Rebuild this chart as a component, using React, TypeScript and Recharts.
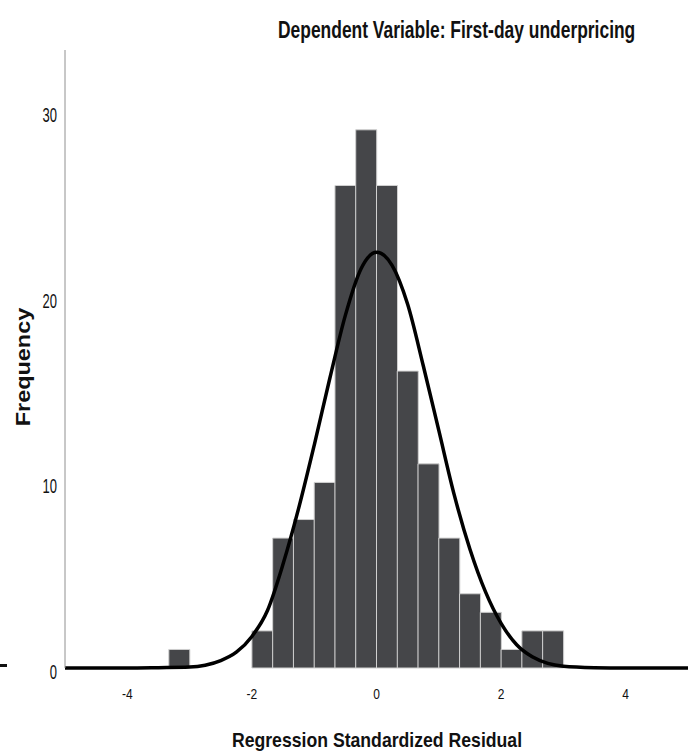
import React from "react";
import { ComposedChart, Bar, Line, XAxis, YAxis } from "recharts";

// histogram bins (start of each 1/3-wide bin)
const binLabels = [
  "-5.00", "-4.67", "-4.33", "-4.00", "-3.67", "-3.33", "-3.00", "-2.67", "-2.33", "-2.00",
  "-1.67", "-1.33", "-1.00", "-0.67", "-0.33", "0.00", "0.33", "0.67", "1.00", "1.33",
  "1.67", "2.00", "2.33", "2.67", "3.00", "3.33", "3.67", "4.00", "4.33", "4.67",
];
const counts = [
  0, 0, 0, 0, 0, 1, 0, 0, 0, 2,
  7, 8, 10, 26, 29, 26, 16, 11, 7, 4,
  3, 1, 2, 2, 0, 0, 0, 0, 0, 0,
];

// normal curve
const curveX = [-5, -4, -3.5, -3, -2.75, -2.5, -2.25, -2, -1.75, -1.5, -1.25, -1, -0.75, -0.5, -0.25, 0, 0.25, 0.5, 0.75, 1, 1.25, 1.5, 1.75, 2, 2.25, 2.5, 2.75, 3, 3.5, 4, 5];
const curveY = [0, 0, 0.02, 0.05, 0.15, 0.4, 0.85, 1.7, 3.1, 5.6, 8.6, 12.0, 15.6, 19.0, 21.5, 22.4, 21.7, 19.6, 16.3, 12.8, 9.3, 6.4, 4.1, 2.4, 1.25, 0.6, 0.25, 0.1, 0.02, 0, 0];

const xTicks = [-4, -2, 0, 2, 4];
const yTicks = [0, 10, 20, 30];

const binData = binLabels.map((bin, i) => ({ bin, count: counts[i] }));
const curveData = curveX.map((x, i) => ({ x, y: curveY[i] }));

const FONT = '"Liberation Sans", Arial, sans-serif';

function YTick({ x, y, payload }: any) {
  return (
    <text
      transform={`translate(${x} ${y + 4}) scale(1 1.5)`}
      textAnchor="end"
      dy="0.36em"
      fontSize={13}
      fontFamily={FONT}
      fill="#111"
    >
      {payload.value}
    </text>
  );
}

function XTick({ x, y, payload }: any) {
  return (
    <text
      transform={`translate(${x} ${y + 18}) scale(1 1.17)`}
      textAnchor="middle"
      dy="0.36em"
      fontSize={12}
      fontFamily={FONT}
      fill="#111"
    >
      {payload.value}
    </text>
  );
}

export default function App() {
  return (
    <div style={{ position: "absolute", left: 0, top: 0, width: 694, height: 756, background: "#fff" }}>
      <ComposedChart
        width={694}
        height={756}
        data={binData}
        margin={{ top: 50, right: 6, bottom: 58, left: 0 }}
        barCategoryGap={0}
        barGap={0}
      >
        <XAxis xAxisId="bins" dataKey="bin" type="category" orientation="top" height={0} hide />
        <XAxis
          xAxisId="num"
          dataKey="x"
          type="number"
          domain={[-5, 5]}
          ticks={xTicks}
          height={30}
          tickLine={false}
          axisLine={false}
          tick={<XTick />}
        />
        <YAxis
          domain={[0, 33.3]}
          ticks={yTicks}
          width={65}
          tickLine={false}
          axisLine={{ stroke: "#909090" }}
          tick={<YTick />}
        />
        <Bar
          xAxisId="bins"
          dataKey="count"
          fill="#454649"
          stroke="#d0d0d0"
          strokeWidth={1}
          isAnimationActive={false}
        />
        <Line
          xAxisId="num"
          data={curveData}
          dataKey="y"
          type="monotone"
          stroke="#000"
          strokeWidth={3.5}
          dot={false}
          isAnimationActive={false}
        />
      </ComposedChart>

      <div
        style={{
          position: "absolute",
          left: 278,
          top: 16,
          fontFamily: FONT,
          fontWeight: "bold",
          fontSize: 24,
          lineHeight: "28px",
          whiteSpace: "nowrap",
          color: "#111",
          transformOrigin: "0 0",
          transform: "scaleX(0.726)",
        }}
      >
        Dependent Variable: First-day underpricing
      </div>

      <div
        style={{
          position: "absolute",
          left: 376.5,
          top: 728,
          fontFamily: FONT,
          fontWeight: "bold",
          fontSize: 21,
          lineHeight: "24px",
          whiteSpace: "nowrap",
          color: "#111",
          transform: "translateX(-50%) scaleX(0.84)",
        }}
      >
        Regression Standardized Residual
      </div>

      <div
        style={{
          position: "absolute",
          left: 23,
          top: 367,
          fontFamily: FONT,
          fontWeight: "bold",
          fontSize: 19.5,
          lineHeight: "22px",
          whiteSpace: "nowrap",
          color: "#111",
          transform: "translate(-50%, -50%) rotate(-90deg) scaleX(1.2)",
        }}
      >
        Frequency
      </div>

      <div style={{ position: "absolute", left: 0, top: 664, width: 7, height: 3, background: "#111" }} />
    </div>
  );
}
